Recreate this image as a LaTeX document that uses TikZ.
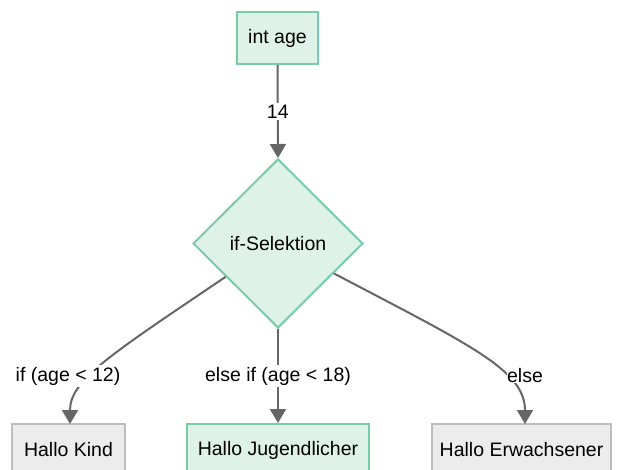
\documentclass[tikz,border=0pt]{standalone}
\usepackage{fontspec}
\setmainfont{Liberation Sans}
\usetikzlibrary{shapes.geometric,arrows.meta,calc}
\definecolor{gfill}{HTML}{DEF2EA}
\definecolor{gline}{HTML}{78CCAA}
\definecolor{kfill}{HTML}{ECECEC}
\definecolor{kline}{HTML}{BDBDBD}
\definecolor{eline}{HTML}{666666}
\tikzset{
  txt/.style={font=\fontsize{19.5}{23}\selectfont, text=black},
  gbox/.style={txt, rectangle, draw=gline, fill=gfill, line width=2pt, minimum height=52pt, inner sep=0pt},
  kbox/.style={txt, rectangle, draw=kline, fill=kfill, line width=1.5pt, minimum height=52pt, inner sep=0pt},
  dia/.style={txt, diamond, draw=gline, fill=gfill, line width=2pt, minimum width=170pt, minimum height=169pt, inner sep=0pt},
  edge/.style={draw=eline, line width=2pt, -{Triangle[length=14pt,width=16pt]}},
  elabel/.style={txt, fill=white, inner sep=2pt}
}
\begin{document}
\begin{tikzpicture}[x=1pt,y=-1pt]
\useasboundingbox (0,0) rectangle (618,470);
\node[gbox, minimum width=81pt] (age) at (277.5,38) {int age};
\node[dia] (sel) at (278,243.5) {if-Selektion};
\node[kbox, minimum width=113pt] (kind) at (68.5,450) {Hallo Kind};
\node[gbox, minimum width=182pt] (jug) at (278,450) {Hallo Jugendlicher};
\node[kbox, minimum width=179pt] (erw) at (521.5,450) {Hallo Erwachsener};
\coordinate (sl) at ($(sel.west)!0.39!(sel.south)$);
\coordinate (sr) at ($(sel.east)!0.35!(sel.south)$);
\coordinate (kt) at (70,424);
\coordinate (et) at (525,424);
\draw[edge] (age.south) -- node[elabel] {14} (sel.north);
\draw[edge] (sel.south) -- node[elabel, pos=0.5] {else if (age < 18)} (jug.north);
\draw[edge] (sl) .. controls (110,355) and (70,380) .. (kt);
\draw[edge] (sr) .. controls (470,345) and (525,370) .. (et);
\node[elabel] (l1) at (68,376) {if (age < 12)};
\node[elabel, inner sep=0pt] (l3) at (525,376) {else};
\end{tikzpicture}
\end{document}
